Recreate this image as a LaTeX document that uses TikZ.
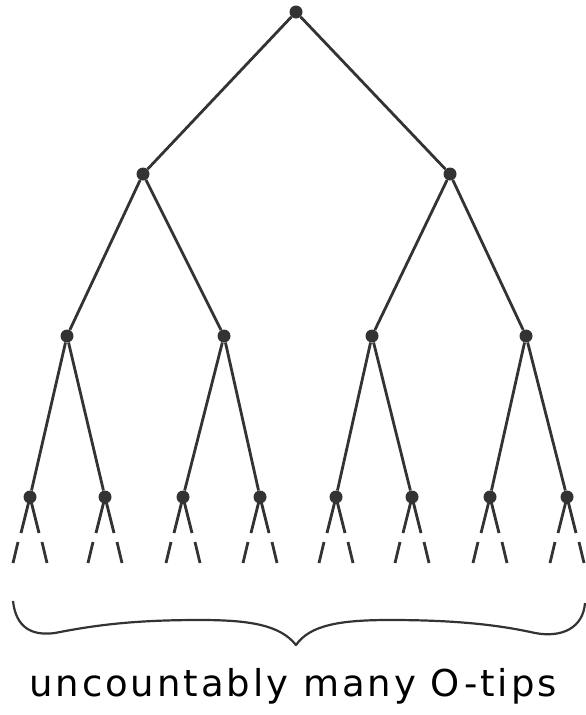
\documentclass[tikz,border=0pt]{standalone}
\usepackage{fontspec}
\setmainfont{DejaVu Sans}
\begin{document}
\begin{tikzpicture}[x=1pt,y=-1pt,
  dot/.style={circle,fill=black!80,inner sep=0pt,minimum size=13pt},
  edge/.style={line width=2.8pt,draw=black!80},
  tip/.style={line width=2.8pt,draw=black!80}]
\useasboundingbox (0,0) rectangle (586,715);
% nodes
\node[dot] (r) at (296,12) {};
\node[dot] (a) at (143,174) {};
\node[dot] (b) at (450,174) {};
\node[dot] (aa) at (67,336) {};
\node[dot] (ab) at (224,336) {};
\node[dot] (ba) at (372,336) {};
\node[dot] (bb) at (526,336) {};
\foreach \n/\x in {1/30,2/105,3/183,4/260,5/336,6/412,7/490,8/567}{
  \node[dot] (l\n) at (\x,497) {};
  \coordinate (l\n la) at (\x-9,533);
  \coordinate (l\n lb) at (\x-12,542);
  \coordinate (l\n lc) at (\x-17,563);
  \coordinate (l\n ra) at (\x+9,533);
  \coordinate (l\n rb) at (\x+12,542);
  \coordinate (l\n rc) at (\x+17,563);
  \draw[tip] (l\n.center) -- (l\n la);
  \draw[tip] (l\n.center) -- (l\n ra);
  \draw[tip] (l\n lb) -- (l\n lc);
  \draw[tip] (l\n rb) -- (l\n rc);
}
% edges
\draw[edge] (r) -- (a);
\draw[edge] (r) -- (b);
\draw[edge] (a) -- (aa);
\draw[edge] (a) -- (ab);
\draw[edge] (b) -- (ba);
\draw[edge] (b) -- (bb);
\draw[edge] (aa) -- (l1);
\draw[edge] (aa) -- (l2);
\draw[edge] (ab) -- (l3);
\draw[edge] (ab) -- (l4);
\draw[edge] (ba) -- (l5);
\draw[edge] (ba) -- (l6);
\draw[edge] (bb) -- (l7);
\draw[edge] (bb) -- (l8);
% brace
\coordinate (bl) at (13,601);
\coordinate (br) at (585,603);
\coordinate (bt) at (296,645);
\draw[line width=2.2pt,draw=black!80,line join=round]
  (bl) .. controls (16,628) and (32,636) .. (55,633)
       .. controls (100,624) and (140,620) .. (200,620)
       .. controls (250,620) and (280,625) .. (bt)
       .. controls (310,625) and (340,620) .. (390,620)
       .. controls (450,620) and (495,624) .. (535,633)
       .. controls (562,638) and (583,628) .. (br);
% label
\node (lbl) at (293,686) {\fontsize{37}{44}\selectfont\addfontfeatures{LetterSpace=8}uncountably many O-tips};
\end{tikzpicture}
\end{document}
